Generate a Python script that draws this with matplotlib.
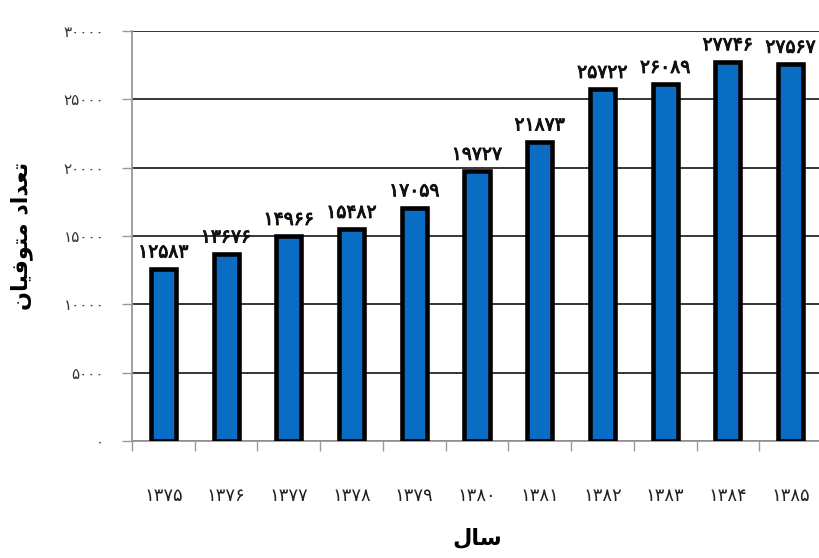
import matplotlib
matplotlib.use("Agg")
import matplotlib.pyplot as plt
import matplotlib.patheffects as pe
from matplotlib.ticker import FixedLocator

years = [1375, 1376, 1377, 1378, 1379, 1380, 1381, 1382, 1383, 1384, 1385]
deaths = [12583, 13676, 14966, 15482, 17059, 19727, 21873, 25722, 26089, 27746, 27567]
y_ticks = [0, 5000, 10000, 15000, 20000, 25000, 30000]

# Arabic presentation forms in visual (left-to-right) order, since
# matplotlib does not shape right-to-left text by itself.
x_title = "\uFEDD\uFE8E\uFEB3"                                   # سال
y_title = ("\uFEE5\uFE8E\uFEF4\uFED3\uFEEE\uFE98\uFEE3" + " " +
           "\uFEA9\uFE8D\uFEAA\uFECC\uFE97")                     # تعداد متوفیان

FA_DIGITS = str.maketrans("0123456789", "۰۱۲۳۴۵۶۷۸۹")


def fa(n):
    return str(n).translate(FA_DIGITS)


plt.rcParams["font.family"] = ["DejaVu Sans"]

fig = plt.figure(figsize=(8.2, 5.58), dpi=100)
ax = fig.add_axes([132 / 820, 1 - 441 / 558, 690 / 820, (441 - 31) / 558])

x = list(range(len(years)))
ax.bar(x, deaths, width=0.40, color="#0a6dc4", edgecolor="black",
       linewidth=3.3, zorder=3)

for xi, v in zip(x, deaths):
    ax.text(xi, v + 550, fa(v), ha="center", va="bottom",
            fontsize=13.5, color="#111111", zorder=4,
            path_effects=[pe.withStroke(linewidth=0.7, foreground="#111111")])

ax.set_xlim(-0.5, len(years) - 0.5)
ax.set_ylim(0, 30000)

ax.set_yticks(y_ticks)
ax.set_yticklabels([fa(t) for t in y_ticks], fontsize=11, color="#333333")
ax.yaxis.grid(True, color="black", linewidth=1.1, zorder=0)

ax.set_xticks(x)
ax.set_xticklabels([fa(y) for y in years], fontsize=13, color="#222222")
ax.xaxis.set_minor_locator(FixedLocator([i - 0.5 for i in range(len(years) + 1)]))
ax.tick_params(axis="x", which="major", length=0, pad=33)
ax.tick_params(axis="x", which="minor", length=7, width=1.0, color="#999999")
ax.tick_params(axis="y", length=7, width=1.0, color="#999999", pad=13)

for side in ("top", "right"):
    ax.spines[side].set_visible(False)
for side in ("left", "bottom"):
    ax.spines[side].set_color("#999999")
    ax.spines[side].set_linewidth(1.3)

ax.set_xlabel(x_title, fontsize=16, fontweight="bold", labelpad=16)
ax.set_ylabel(y_title, fontsize=16, fontweight="bold", labelpad=22)

fig.savefig("out.png", dpi=100)
